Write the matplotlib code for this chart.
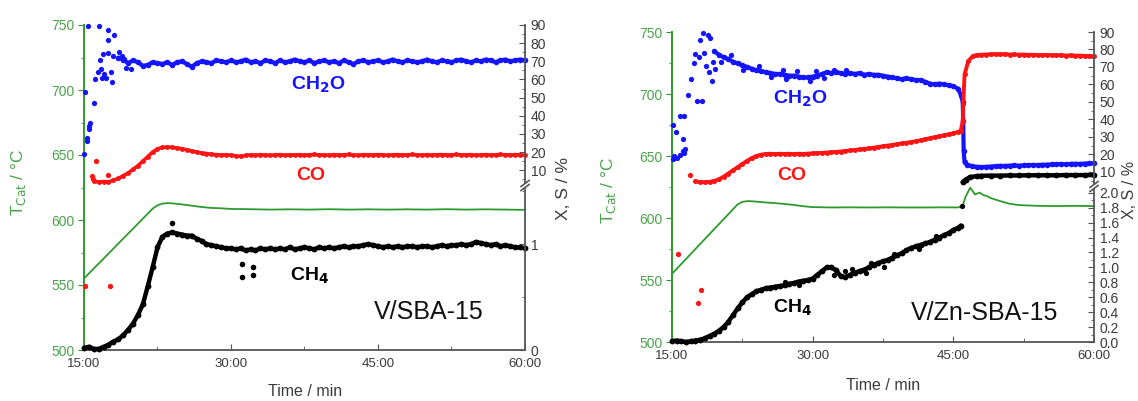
import numpy as np
import matplotlib
matplotlib.use("Agg")
import matplotlib.pyplot as plt
from matplotlib.lines import Line2D
from matplotlib.ticker import MultipleLocator, FixedLocator, FuncFormatter

plt.rcParams['font.family'] = ['Liberation Sans', 'DejaVu Sans']

# ===================== DATA =====================
X_TICKS = [15, 30, 45, 60]
X_MINOR = [22.5, 37.5, 52.5]

# ---------- Left panel: V/SBA-15 ----------
TL_t = [15, 16, 17, 18, 19, 20, 21, 22, 22.5, 23, 23.5, 24, 25, 26, 27, 28, 29, 30,
        32, 34, 36, 38, 40, 42, 44, 46, 48, 50, 52, 54, 56, 58, 60]
TL_v = [555, 562.7, 570.3, 578, 585.7, 593.3, 601, 608.7, 611.3, 612.6, 613, 612.8, 612, 611,
        610, 609.3, 609, 608.5, 608.3, 608, 608.2, 608, 608.3, 608, 608.2, 608, 608.2, 608,
        608.3, 608, 608.2, 608, 607.8]

CH2O_L_sc_t = [15.0, 15.1, 15.3, 15.35, 15.5, 15.6, 15.55, 16.0, 16.1, 16.4, 16.6, 16.8, 16.9,
               16.5, 15.4, 17.4, 17.5, 18.1, 17.2, 17.8, 17.9, 17.4, 18.6, 16.7, 17.0, 18.0,
               18.9, 19.3, 19.1, 19.8]
CH2O_L_sc_v = [19, 53, 26, 28, 33, 36, 34.5, 47, 60, 64, 71, 61, 74,
               89.5, 89.5, 87, 82, 84.5, 61, 64, 58.5, 74.5, 75, 66, 63, 73,
               73, 66.5, 71.5, 66]
CH2O_L_t0 = 18.5
CH2O_L_v = [72, 71, 69, 70.5, 69.5, 67.5, 68, 69.5, 69, 68.5,
            69.5, 68, 69.5, 70, 68.5, 67, 69, 70, 69.5, 69,
            70.5, 70, 69.5, 70.5, 69.5, 70, 71, 69.5, 70, 69,
            70.5, 70, 69, 70.5, 69.5, 70, 71, 70, 69.5, 70.5,
            69, 70, 70.5, 69.5, 70, 69, 70.5, 69.5, 68.5, 70,
            70.5, 69.5, 70, 70.5, 69.5, 70, 71, 70, 69.5, 70.5,
            70, 69.5, 70, 71, 70, 69.5, 70.5, 70, 69.5, 70.5,
            71, 70, 69.5, 70.5, 70, 71, 70.5, 69.5, 70.5, 71,
            70, 70.5, 71, 70.5]

CO_L_t0 = 16.0
CO_L_v = [4.0, 3.5, 3.8, 3.6, 4.5, 5.5, 7.0, 8.5, 10.5, 12.5,
          15.0, 17.5, 20.0, 21.8, 22.6, 22.8, 22.6, 22.3, 21.8, 21.3,
          20.6, 20.0, 19.5, 19.2, 18.8, 18.6, 18.4, 18.5, 18.3, 18.0,
          17.6, 18.2, 18.5, 18.3, 18.6, 18.4, 18.2, 18.5, 18.6, 18.3,
          18.5, 18.4, 18.6, 18.3, 18.5, 18.7, 18.4, 18.5, 18.3, 18.6,
          18.4, 18.5, 18.7, 18.4, 18.3, 18.6, 18.5, 18.4, 18.6, 18.5,
          18.3, 18.5, 18.6, 18.4, 18.5, 18.7, 18.5, 18.3, 18.6, 18.4,
          18.5, 18.6, 18.4, 18.5, 18.7, 18.4, 18.5, 18.6, 18.3, 18.5,
          18.6, 18.4, 18.5, 18.7, 18.5, 18.4, 18.6, 18.5, 18.3]
CO_L_sc_t = [15.8, 16.2, 17.5, 15.9]
CO_L_sc_v = [6.8, 15.1, 7.6, 5.0]
CO_L_low_t = [15.1, 17.7]
CO_L_low_v = [0.6, 0.6]

CH4_L_t0 = 15.0
CH4_L_v = [0.02, 0.03, 0.01, 0.01, 0.03, 0.05, 0.08, 0.10, 0.14, 0.19,
           0.25, 0.33, 0.43, 0.60, 0.78, 0.97, 1.07, 1.10, 1.11, 1.10,
           1.09, 1.08, 1.08, 1.05, 1.03, 1.00, 0.99, 0.98, 0.97, 0.96,
           0.96, 0.95, 0.96, 0.94, 0.95, 0.94, 0.96, 0.95, 0.96, 0.95,
           0.96, 0.95, 0.97, 0.95, 0.96, 0.97, 0.96, 0.95, 0.97, 0.96,
           0.97, 0.96, 0.97, 0.98, 0.97, 0.98, 0.98, 0.99, 1.00, 0.99,
           0.98, 0.97, 0.98, 0.97, 0.98, 0.97, 0.98, 0.98, 0.97, 0.98,
           0.98, 0.97, 0.98, 0.99, 0.98, 0.99, 0.99, 1.00, 0.99, 1.00,
           1.02, 1.01, 1.00, 0.99, 1.00, 0.98, 0.99, 0.98, 0.97, 0.97,
           0.96]
CH4_L_sc_t = [24.0, 31.1, 31.1, 32.2, 32.2]
CH4_L_sc_v = [1.2, 0.81, 0.69, 0.78, 0.71]

# ---------- Right panel: V/Zn-SBA-15 ----------
TR_t = [15, 16, 17, 18, 19, 20, 21, 22, 22.5, 23, 23.5, 24, 25, 26, 27, 28, 29, 30, 32, 34,
        36, 38, 40, 42, 44, 45.5, 46, 46.3, 46.8, 47.3, 47.8, 48.2, 48.6, 49, 50, 51, 52,
        54, 56, 58, 60]
TR_v = [555, 563, 571, 579, 587, 595, 603, 611, 613, 613.6, 613.5, 613.2, 612.5, 612, 611.3,
        610.5, 609.5, 608.8, 608.5, 608.6, 608.5, 608.6, 608.5, 608.5, 608.6, 608.5, 610,
        617, 624.5, 619, 620.5, 618.5, 617.6, 616, 613.6, 611.5, 610.4, 609.8, 609.6, 609.8,
        609.6]

CH2O_R_sc_t = [15.1, 15.2, 15.1, 15.4, 15.8, 16.3, 16.2, 16.2, 16.4, 16.7, 17.0, 17.7, 18.2,
               17.5, 17.9, 18.0, 18.3, 18.8, 19.0, 18.6, 18.9, 19.3, 19.6, 19.4, 17.3, 18.4,
               15.5, 15.9, 16.3, 20.2, 21.3, 22.6, 24.3, 25.6, 27.2, 28.3, 29.7, 30.4, 31.2,
               32.3, 33.6, 26.8]
CH2O_R_sc_v = [17.2, 19, 36.7, 32.7, 42, 42, 28.7, 22, 23, 53.8, 63, 50.6, 50.6,
               77.3, 75.5, 85.4, 89.2, 88.1, 86.4, 70.6, 67, 62, 68.7, 72.9, 72, 78,
               18, 19.5, 21, 73, 77, 68.5, 70.5, 64, 63, 67.5, 62, 67.5, 63.5,
               68.5, 68, 68]
CH2O_R_pre_t0 = 19.5
CH2O_R_pre_v = [79, 77, 75.5, 74.5, 73, 72, 71, 70, 69, 68,
                67.5, 67, 66.5, 66, 66, 65.5, 65, 65, 64.5, 64,
                64, 64.5, 65, 66, 67, 66.5, 67, 66.5, 66, 66.5,
                66, 66.5, 65.5, 66, 65.5, 65.5, 65, 64.5, 64, 63.5,
                63, 63.5, 63, 62.5, 62.5, 61.5, 60.5, 60, 60.5, 60,
                59.5, 59, 57.5]
CH2O_R_tr_t = [45.8, 46.0, 46.05, 46.1, 46.2]
CH2O_R_tr_v = [54, 50, 39, 22, 15.5]
CH2O_R_post_t0 = 46.5
CH2O_R_post_v = [14, 13.2, 12.8, 12.7, 12.8, 13.0, 13.2, 13.4, 13.3, 13.5,
                 13.6, 13.5, 13.7, 13.8, 13.9, 13.8, 14.0, 14.1, 14.2, 14.3,
                 14.4, 14.3, 14.5, 14.6, 14.5, 14.7, 14.8, 14.8]

CO_R_pre_t0 = 17.5
CO_R_pre_v = [4.5, 4.1, 4.0, 4.2, 4.8, 5.6, 7.2, 9.0, 10.8, 12.6,
              14.5, 16.2, 17.8, 19.0, 19.8, 20.2, 20.3, 20.1, 20.3, 20.2,
              20.3, 20.1, 20.3, 20.2, 20.4, 20.5, 20.7, 20.8, 21.0, 21.2,
              21.4, 21.6, 21.9, 22.2, 22.5, 22.8, 23.1, 23.4, 23.8, 24.2,
              24.6, 25.0, 25.4, 25.8, 26.2, 26.6, 27.0, 27.5, 28.0, 28.6,
              29.2, 29.8, 30.3, 30.8, 31.4, 32.0, 32.8]
CO_R_tr_t = [45.8, 46.0, 46.05, 46.2, 46.6, 47.1]
CO_R_tr_v = [33.6, 39, 48.7, 65.8, 73.4, 76.3]
CO_R_post_t0 = 47.5
CO_R_post_v = [76.8, 77.0, 77.1, 77.2, 77.3, 77.2, 77.3, 77.1, 77.2, 77.0,
               77.1, 76.9, 77.0, 76.8, 76.9, 76.7, 76.8, 76.6, 76.7, 76.5,
               76.6, 76.4, 76.5, 76.3, 76.2, 76.1]
CO_R_sc_t = [16.9]
CO_R_sc_v = [8.1]
CO_R_low_t = [15.6, 18.1, 17.8]
CO_R_low_v = [1.18, 0.70, 0.52]

CH4_R_t0 = 15.0
CH4_R_v = [0.01, 0.02, 0.01, 0.00, 0.01, 0.02, 0.03, 0.05, 0.08, 0.11,
           0.15, 0.20, 0.27, 0.36, 0.45, 0.53, 0.60, 0.64, 0.68, 0.70,
           0.72, 0.73, 0.74, 0.75, 0.76, 0.78, 0.79, 0.81, 0.82, 0.83,
           0.85, 0.90, 0.95, 1.00, 1.00, 0.96, 0.88, 0.87, 0.90, 0.93,
           0.95, 0.97, 1.00, 1.03, 1.06, 1.08, 1.10, 1.13, 1.16, 1.19,
           1.23, 1.26, 1.28, 1.30, 1.32, 1.34, 1.37, 1.40, 1.43, 1.46,
           1.50, 1.53]
CH4_R_end_t = [45.8]
CH4_R_end_v = [1.56]
CH4_R_sc_t = [45.9, 32.3, 33.5, 34.2, 36.2, 37.6, 38.7, 41.3, 43.1, 35.7, 28.5, 27.0]
CH4_R_sc_v = [1.82, 0.90, 0.95, 0.98, 1.06, 1.00, 1.18, 1.24, 1.42, 0.92, 0.76, 0.80]
CH4_R_up_t = [46.0, 46.3, 46.8, 47.5, 48, 49, 50, 51, 52, 53, 54, 55, 56, 57, 58, 59, 60]
CH4_R_up_v = [4.1, 5.5, 7.0, 7.5, 7.7, 7.8, 7.8, 7.9, 7.9, 8.0, 8.0, 8.0, 8.0, 8.1, 8.1, 8.1, 8.1]

DT = 0.5

# ===================== FIGURE =====================
W, H = 1138, 401
fig = plt.figure(figsize=(W / 100, H / 100), dpi=100)

GREEN = '#2e9a2e'
TGREEN = '#4aa34a'
BLUE = '#1414ff'
RED = '#ff1414'
BLACK = '#000000'
AX = '#555555'
TXT = '#3a3a3a'


def box(x0, x1, ytop, ybot):
    return [x0 / W, 1 - ybot / H, (x1 - x0) / W, (ybot - ytop) / H]


def fpt(x, y):
    return x / W, 1 - y / H


def grid(t0, vals):
    return t0 + DT * np.arange(len(vals))


def make_panel(g, up_lim, low_lim, low_major, low_minor, low_fmt):
    axT = fig.add_axes(box(g['x0'], g['x1'], g['ytop'], g['ybot']))
    axT.patch.set_visible(False)
    axT.set_xlim(15, 60)
    axT.set_ylim(500, 750)
    for s in ['top', 'right']:
        axT.spines[s].set_visible(False)
    axT.spines['left'].set_color(GREEN)
    axT.spines['left'].set_linewidth(1.4)
    axT.spines['bottom'].set_color(AX)
    axT.spines['bottom'].set_linewidth(1.3)
    axT.yaxis.set_major_locator(MultipleLocator(50))
    axT.yaxis.set_minor_locator(MultipleLocator(25))
    axT.tick_params(axis='y', which='both', colors=GREEN, labelcolor=TGREEN,
                    direction='out', labelsize=10, pad=3)
    axT.tick_params(axis='y', which='major', length=4)
    axT.tick_params(axis='y', which='minor', length=2.5)
    axT.xaxis.set_major_locator(FixedLocator(X_TICKS))
    axT.xaxis.set_minor_locator(FixedLocator(X_MINOR))
    axT.xaxis.set_major_formatter(FuncFormatter(lambda v, p: f"{int(v)}:00"))
    axT.tick_params(axis='x', which='both', direction='in', colors=AX,
                    labelcolor=TXT, labelsize=9.5, pad=6)
    axT.tick_params(axis='x', which='major', length=4)
    axT.tick_params(axis='x', which='minor', length=3)

    axU = fig.add_axes(box(g['x0'], g['x1'], g['ytop'], g['ubot']))
    axL = fig.add_axes(box(g['x0'], g['x1'], g['ltop'], g['ybot']))
    for ax in (axU, axL):
        ax.patch.set_visible(False)
        for s in ['top', 'left', 'bottom']:
            ax.spines[s].set_visible(False)
        ax.spines['right'].set_color(AX)
        ax.spines['right'].set_linewidth(1.3)
        ax.set_xlim(15, 60)
        ax.xaxis.set_visible(False)
        ax.yaxis.tick_right()
        ax.tick_params(axis='y', which='both', direction='in', colors=AX,
                       labelcolor=TXT, labelsize=10, pad=4)
        ax.tick_params(axis='y', which='major', length=4)
        ax.tick_params(axis='y', which='minor', length=2.5)
    axU.set_ylim(*up_lim)
    axU.yaxis.set_major_locator(FixedLocator([10, 20, 30, 40, 50, 60, 70, 80, 90]))
    axU.yaxis.set_minor_locator(MultipleLocator(5))
    axL.set_ylim(*low_lim)
    axL.yaxis.set_major_locator(FixedLocator(low_major))
    axL.yaxis.set_minor_locator(MultipleLocator(low_minor))
    axL.yaxis.set_major_formatter(FuncFormatter(low_fmt))

    # axis break marks on the right spine
    for yb in (g['ubot'] + 0.5, g['ltop'] - 0.5):
        xa, ya = fpt(g['x1'] - 4, yb + 3)
        xb, yb2 = fpt(g['x1'] + 4, yb - 3)
        fig.add_artist(Line2D([xa, xb], [ya, yb2], color=AX, lw=1.2,
                              transform=fig.transFigure))
    return axT, axU, axL


def band(ax, t, v, color, ms=4.0, lw=3.0):
    ax.plot(t, v, color=color, lw=lw, marker='o', ms=ms, mec=color, mew=0,
            solid_capstyle='round', clip_on=False)


def dots(ax, t, v, color, ms=3.8):
    ax.plot(t, v, ls='none', marker='o', ms=ms, color=color, mew=0, clip_on=False)


# ---------- left panel ----------
gL = dict(x0=84, x1=525, ytop=25, ybot=350, ubot=183, ltop=188)
aTL, aUL, aLL = make_panel(gL, (3, 90), (0, 1.53), [0, 1], 0.5,
                           lambda v, p: f"{v:.0f}")
aTL.plot(TL_t, TL_v, color=GREEN, lw=1.3)
band(aUL, grid(CH2O_L_t0, CH2O_L_v), CH2O_L_v, BLUE)
dots(aUL, CH2O_L_sc_t, CH2O_L_sc_v, BLUE)
band(aUL, grid(CO_L_t0, CO_L_v), CO_L_v, RED, ms=3.5, lw=2.6)
dots(aUL, CO_L_sc_t, CO_L_sc_v, RED)
dots(aLL, CO_L_low_t, CO_L_low_v, RED)
band(aLL, grid(CH4_L_t0, CH4_L_v), CH4_L_v, BLACK, ms=4.2, lw=3.2)
dots(aLL, CH4_L_sc_t, CH4_L_sc_v, BLACK, ms=4)

# ---------- right panel ----------
gR = dict(x0=672, x1=1094, ytop=32, ybot=342, ubot=184, ltop=189)
aTR, aUR, aLR = make_panel(gR, (3, 90), (0, 2.05),
                           [0, 0.2, 0.4, 0.6, 0.8, 1.0, 1.2, 1.4, 1.6, 1.8, 2.0], 0.1,
                           lambda v, p: f"{v:.1f}")
aTR.plot(TR_t, TR_v, color=GREEN, lw=1.3)
ch2o_t = np.concatenate([grid(CH2O_R_pre_t0, CH2O_R_pre_v), CH2O_R_tr_t,
                         grid(CH2O_R_post_t0, CH2O_R_post_v)])
ch2o_v = np.concatenate([CH2O_R_pre_v, CH2O_R_tr_v, CH2O_R_post_v])
band(aUR, ch2o_t, ch2o_v, BLUE)
dots(aUR, CH2O_R_sc_t, CH2O_R_sc_v, BLUE)
co_t = np.concatenate([grid(CO_R_pre_t0, CO_R_pre_v), CO_R_tr_t,
                       grid(CO_R_post_t0, CO_R_post_v)])
co_v = np.concatenate([CO_R_pre_v, CO_R_tr_v, CO_R_post_v])
band(aUR, co_t, co_v, RED, ms=3.6, lw=2.8)
dots(aUR, CO_R_sc_t, CO_R_sc_v, RED)
dots(aLR, CO_R_low_t, CO_R_low_v, RED)
ch4_t = np.concatenate([grid(CH4_R_t0, CH4_R_v), CH4_R_end_t])
ch4_v = np.concatenate([CH4_R_v, CH4_R_end_v])
band(aLR, ch4_t, ch4_v, BLACK, ms=4.2, lw=3.2)
dots(aLR, CH4_R_sc_t, CH4_R_sc_v, BLACK, ms=3.8)
band(aUR, CH4_R_up_t, CH4_R_up_v, BLACK, ms=4.2, lw=3.2)

# ---------- texts ----------
def ftext(x, y, s, **kw):
    fx, fy = fpt(x, y)
    fig.text(fx, fy, s, ha='center', va='center', **kw)

lab = dict(fontsize=14, fontweight='bold')
ftext(318, 85, 'CH$_\\mathbf{2}$O', color=BLUE, **lab)
ftext(311, 176, 'CO', color=RED, **lab)
ftext(310, 276, 'CH$_\\mathbf{4}$', color=BLACK, **lab)
ftext(429, 312, 'V/SBA-15', color='#111111', fontsize=18)

ftext(800, 99, 'CH$_\\mathbf{2}$O', color=BLUE, **lab)
ftext(792, 175, 'CO', color=RED, **lab)
ftext(793, 308, 'CH$_\\mathbf{4}$', color=BLACK, **lab)
ftext(985, 313, 'V/Zn-SBA-15', color='#111111', fontsize=18)

ftext(305, 391, 'Time / min', color=TXT, fontsize=11.5)
ftext(883, 385, 'Time / min', color=TXT, fontsize=11.5)

ftext(18, 182, 'T$_{\\rm Cat}$ / °C', color=TGREEN, fontsize=12.5, rotation=90)
ftext(609, 190, 'T$_{\\rm Cat}$ / °C', color=TGREEN, fontsize=12.5, rotation=90)
ftext(564, 188, 'X, S / %', color=TXT, fontsize=12.5, rotation=90)
ftext(1129, 190, 'X, S / %', color=TXT, fontsize=11.5, rotation=90)

fig.savefig('out.png', dpi=100)
